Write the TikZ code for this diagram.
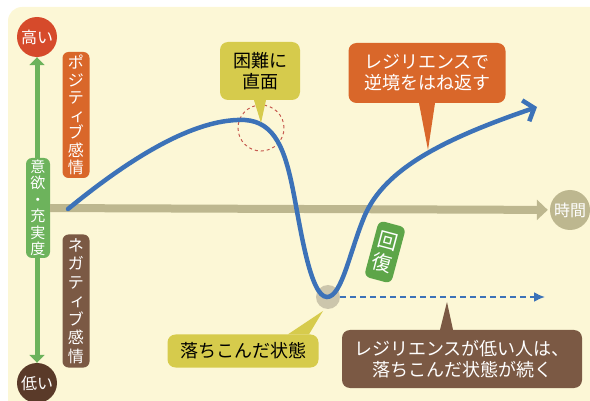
\documentclass[tikz,border=0pt]{standalone}
\usepackage{fontspec}
\setmainfont{Noto Sans CJK JP}
\usepackage{tikz}
\usetikzlibrary{arrows.meta}

\definecolor{bgcream}{HTML}{FCF7D6}
\definecolor{highred}{HTML}{D64A2B}
\definecolor{posorange}{HTML}{D9672A}
\definecolor{lowbrown}{HTML}{5A3A29}
\definecolor{negbrown}{HTML}{7B5944}
\definecolor{yokugreen}{HTML}{6DB35C}
\definecolor{kaifukugreen}{HTML}{5DA548}
\definecolor{axiskhaki}{HTML}{BDB78F}
\definecolor{curveblue}{HTML}{3C72B8}
\definecolor{calloutyellow}{HTML}{D6CB4C}
\definecolor{dipgrey}{HTML}{CCC6AC}
\definecolor{markred}{HTML}{C65A4F}

\begin{document}
\begin{tikzpicture}[x=1pt,y=-1pt,
  bubble/.style={align=center,rounded corners=8pt,inner sep=0pt,text=white,
    font=\fontsize{18}{21}\selectfont},
  vbox/.style={align=center,rounded corners=6pt,inner sep=0pt,text=white,
    minimum width=27pt},
  endball/.style={circle,inner sep=0pt,minimum size=40pt,text=white,
    font=\fontsize{16}{18}\selectfont}]
  \useasboundingbox (0,0) rectangle (590,401);
  \clip (0,0) rectangle (590,401);
  \fill[bgcream,rounded corners=14pt] (8,7) rectangle (620,430);

  % vertical scale
  \node at (37,37) [endball,fill=highred] (takai) {高い};
  \node at (37,383) [endball,fill=lowbrown] (hikui) {低い};
  \draw[yokugreen, line width=5pt, {Triangle[length=8pt,width=15pt]}-{Triangle[length=8pt,width=15pt]}] (takai) -- (hikui);
  \node at (38,208) [vbox,fill=yokugreen,minimum height=100pt,minimum width=24pt,
    font=\fontsize{15}{16.5}\selectfont] (yoku) {意\\欲\\・\\充\\実\\度};

  \node at (76,115) [vbox,fill=posorange,minimum height=126pt,
    font=\fontsize{16}{17.5}\selectfont] (posi) {ポ\\ジ\\テ\\{\hspace*{3pt}ィ}\\ブ\\感\\情};
  \node at (76,301) [vbox,fill=negbrown,minimum height=133pt,
    font=\fontsize{16}{18.5}\selectfont] (nega) {ネ\\ガ\\テ\\{\hspace*{3pt}ィ}\\ブ\\感\\情};

  % time axis
  \node at (570,210) [endball,fill=axiskhaki] (jikan) {時間};
  \draw[axiskhaki, line width=8pt, -{Triangle[length=11pt,width=20pt]}, shorten >=2pt] (yoku) -- (jikan);

  % marks on the curve
  \node at (261,128) [circle,draw=markred,dashed,line width=1pt,minimum size=46pt] (peakmark) {};
  \node at (328,297) [circle,fill=dipgrey,minimum size=24pt,inner sep=0pt] (dip) {};
  \coordinate (dashend) at (545,297);
  \draw[curveblue, line width=2pt, dash pattern=on 6pt off 4pt, -{Latex[length=11pt,width=10pt]}] (dip) -- (dashend);

  % the curve
  \draw[curveblue, line width=4.5pt, line cap=round, -{Straight Barb[length=9pt,width=22pt]}]
    (68,209) .. controls (140,150) and (200,118) .. (245,120)
    .. controls (275,122) and (285,150) .. (293,190)
    .. controls (300,225) and (310,297) .. (327,297)
    .. controls (342,297) and (350,250) .. (365,215)
    .. controls (385,170) and (440,140) .. (537,107);

  \node at (385,252) [rotate=-15,vbox,fill=kaifukugreen,minimum width=28pt,minimum height=58pt,
    font=\fontsize{20}{23}\selectfont] (kaifuku) {回\\復};

  % callouts
  \coordinate (kontip) at (261,123);
  \coordinate (gyakutip) at (428,150);
  \coordinate (ochitip) at (323,311);
  \coordinate (tsuzukutip) at (447,302);

  \node at (260,71) [bubble,fill=calloutyellow,text=black,minimum width=80pt,minimum height=58pt] (konnan) {困難に\\直面};
  \fill[calloutyellow] ([xshift=-6pt]konnan.south) -- (kontip) -- ([xshift=6pt]konnan.south) -- cycle;

  \node at (427,73) [bubble,fill=posorange,minimum width=157pt,minimum height=60pt] (gyakkyo) {レジリエンスで\\逆境をはね返す};
  \fill[posorange] ([xshift=-8pt]gyakkyo.south) -- (gyakutip) -- ([xshift=8pt]gyakkyo.south) -- cycle;

  \node at (243,351) [bubble,fill=calloutyellow,text=black,minimum width=151pt,minimum height=33pt] (ochikon) {落ちこんだ状態};
  \fill[calloutyellow] ([xshift=45pt]ochikon.north) -- (ochitip) -- ([xshift=66pt]ochikon.north) -- cycle;

  \node at (462,359) [bubble,fill=negbrown,minimum width=240pt,minimum height=58pt] (tsuzuku) {レジリエンスが低い人は、\\落ちこんだ状態が続く};
  \fill[negbrown] ([xshift=-22pt]tsuzuku.north) -- (tsuzukutip) -- ([xshift=-9pt]tsuzuku.north) -- cycle;
\end{tikzpicture}
\end{document}
